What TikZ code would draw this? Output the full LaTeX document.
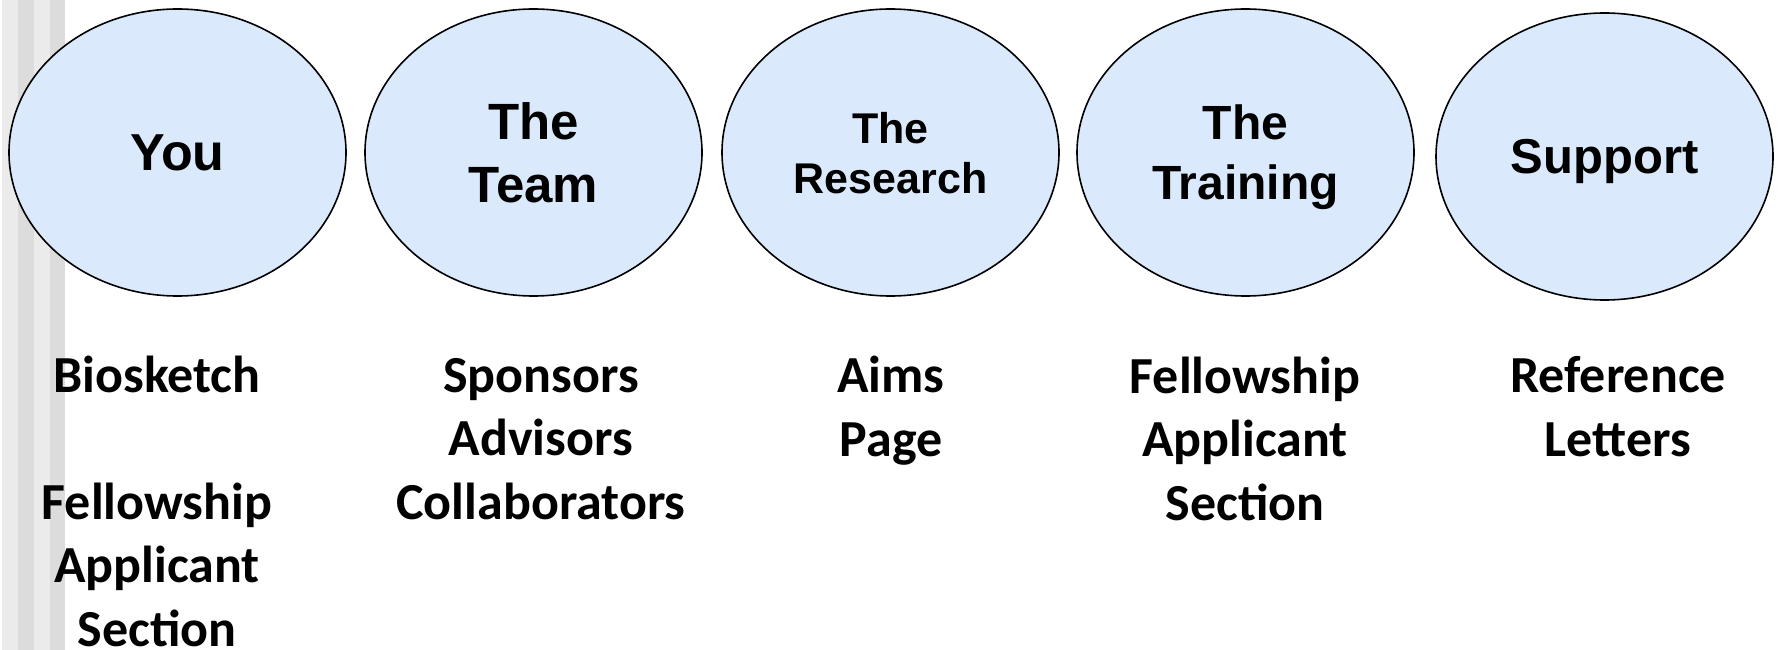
\documentclass[tikz,border=0pt]{standalone}
\usepackage{fontspec}
\setmainfont{Carlito}
\newfontfamily\headfont{Liberation Sans}
\usepackage{xcolor}
\usetikzlibrary{shapes.geometric}

\definecolor{bubblefill}{RGB}{218,234,252}
\definecolor{stripelight}{RGB}{235,235,235}
\definecolor{stripedark}{RGB}{220,220,220}

\begin{document}
\begin{tikzpicture}[x=1pt,y=1pt,yscale=-1,
  bubble/.style={ellipse,draw,line width=1.6pt,fill=bubblefill,minimum width=337,minimum height=287,inner sep=0pt,align=center,text depth=0pt},
  itemtext/.style={align=center,anchor=base,font=\bfseries\fontsize{52}{63.5}\selectfont}]
\useasboundingbox (0,0) rectangle (1781,650);

%Shape: Stripes on the left edge
\fill [stripelight] (2,0) rectangle (18,650);
\fill [stripedark] (18,0) rectangle (34,650);
\fill [stripelight] (34,0) rectangle (50,650);
\fill [stripedark] (50,0) rectangle (65,650);

%Shape: Ellipse
\draw (177.5,152.5) node [bubble,font=\headfont\bfseries\fontsize{52}{63}\selectfont] (you) {You};
%Shape: Ellipse
\draw (533.5,152.5) node [bubble,font=\headfont\bfseries\fontsize{51}{63}\selectfont] (team) {The\\Team};
%Shape: Ellipse
\draw (890.5,152.5) node [bubble,font=\headfont\bfseries\fontsize{43}{50}\selectfont] (research) {The\\Research};
%Shape: Ellipse
\draw (1245.5,152.5) node [bubble,font=\headfont\bfseries\fontsize{48}{60}\selectfont] (training) {The\\Training};
%Shape: Ellipse
\draw (1604.5,156.5) node [bubble,font=\headfont\bfseries\fontsize{49}{60}\selectfont] (support) {Support};

% Text Node (anchored on the baseline of the last line)
\draw (157,646) node [itemtext] (youitems) {Biosketch\\[63.5pt]Fellowship\\Applicant\\Section};
% Text Node
\draw (541,519) node [itemtext] (teamitems) {Sponsors\\Advisors\\Collaborators};
% Text Node
\draw (891,456) node [itemtext] (researchitems) {Aims\\Page};
% Text Node
\draw (1245,520) node [itemtext] (trainingitems) {Fellowship\\Applicant\\Section};
% Text Node
\draw (1618,456) node [itemtext] (supportitems) {Reference\\Letters};

\end{tikzpicture}
\end{document}
